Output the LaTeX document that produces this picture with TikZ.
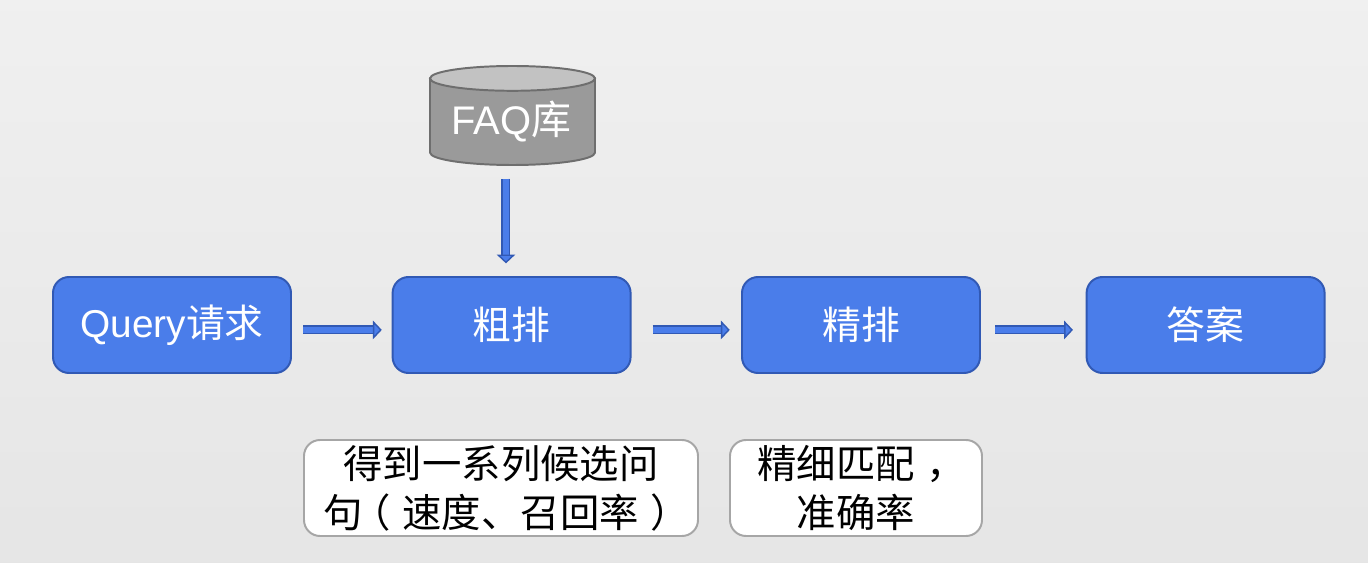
\documentclass[tikz,border=0pt]{standalone}
\usepackage{fontspec}
\usepackage{xcolor}
\usepackage{tikz}
\usetikzlibrary{arrows.meta}
\setmainfont{Liberation Sans}
\newfontfamily\cjk{Noto Sans CJK SC}
\newcommand{\openparen}{\kern-0.3em（\kern0.3em}
\newcommand{\closeparen}{\kern0.3em）\kern-0.3em}
\newcommand{\midcomma}{\kern0.3em，\kern-0.3em}
\definecolor{boxblue}{HTML}{4A7DEA}
\definecolor{boxedge}{HTML}{3159B4}
\definecolor{cylbody}{HTML}{9A9A9A}
\definecolor{cyltop}{HTML}{C2C2C2}
\definecolor{cyledge}{HTML}{6E6E6E}
\tikzset{
    stepbox/.style={draw=boxedge, fill=boxblue, line width=1.4pt, rounded corners=0.4cm,
        minimum width=5.95cm, minimum height=2.4cm, text=white, font=\fontsize{27.6}{32}\selectfont},
    notebox/.style={draw=black!35, fill=white, line width=1.4pt, rounded corners=0.4cm,
        minimum height=2.4cm, inner sep=0pt, align=center, font=\fontsize{28}{35}\selectfont\cjk},
    flow/.style={draw=boxedge, double=boxblue, double distance=4.4pt, line width=1pt,
        -{Triangle[length=0.22cm, width=0.46cm, fill=boxblue]}}
}
\begin{document}
\begin{tikzpicture}
    % Fond
    \useasboundingbox (0,0) rectangle (34.2,14.05);
    \shade[top color=black!6, bottom color=black!10] (0,0) rectangle (34.2,14.05);

    % Base FAQ
    \filldraw[draw=cyledge, fill=cylbody, line width=1.4pt] (10.75,12.09) -- (10.75,10.235)
        arc[start angle=180, end angle=360, x radius=2.0625, y radius=0.31] -- (14.875,12.09) -- cycle;
    \filldraw[draw=cyledge, fill=cyltop, line width=1.4pt] (12.8125,12.09) ellipse[x radius=2.0625, y radius=0.31];
    \node[text=white, font=\fontsize{28.4}{32}\selectfont, minimum width=4.125cm, minimum height=2.15cm,
        inner sep=0pt] (faq) at (12.79,11.0) {FAQ{\cjk 库}};

    % Etapes
    \node[stepbox] (query) at (4.3,5.925) {Query{\cjk 请求}};
    \node[stepbox] (coarse) at (12.79,5.925) {\cjk 粗排};
    \node[stepbox] (fine) at (21.525,5.925) {\cjk 精排};
    \node[stepbox] (answer) at (30.14,5.925) {\cjk 答案};

    % Notes
    \node[notebox, minimum width=9.85cm] (coarsenote) at (12.525,1.85) {得到一系列候选问\\句\openparen 速度、召回率\closeparen};
    \node[notebox, minimum width=6.3cm] (finenote) at (21.4,1.85) {精细匹配\midcomma\\准确率};

    % Fleches
    \draw[flow, shorten <=9.5pt, shorten >=9pt] ([xshift=-4pt]faq.south) -- ([xshift=-4pt]coarse.north);
    \draw[flow, shorten <=8pt, shorten >=7pt] ([yshift=-3.5pt]query.east) -- ([yshift=-3.5pt]coarse.west);
    \draw[flow, shorten <=15pt, shorten >=8pt] ([yshift=-3.5pt]coarse.east) -- ([yshift=-3.5pt]fine.west);
    \draw[flow, shorten <=10pt, shorten >=9pt] ([yshift=-3.5pt]fine.east) -- ([yshift=-3.5pt]answer.west);
\end{tikzpicture}
\end{document}
